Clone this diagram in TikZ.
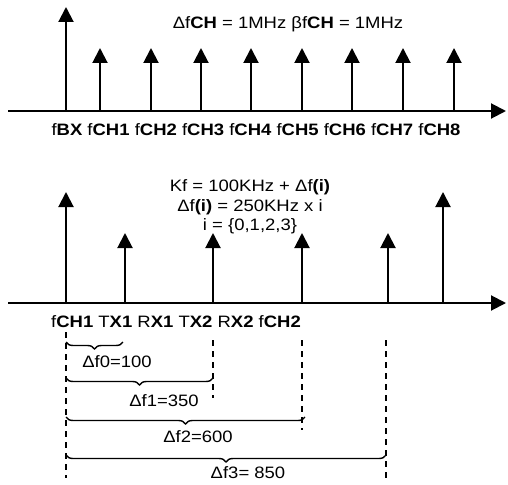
\documentclass[tikz,border=0pt]{standalone}
\usepackage{fontspec}
\setmainfont{Liberation Sans}[FakeStretch=1.12]
\usetikzlibrary{arrows.meta,decorations.pathreplacing}

\begin{document}
\begin{tikzpicture}[x=1pt,y=-1pt,>={Triangle[length=15pt,width=15pt]},
  every node/.style={font=\fontsize{16.5}{19.5}\selectfont,inner sep=0pt},
  axisline/.style={line width=2pt,->},
  stem/.style={line width=2pt,->},
  guide/.style={line width=1.4pt,dash pattern=on 6pt off 5pt},
  span/.style={line width=1.4pt,decorate,decoration={brace,mirror,amplitude=7pt}}]
\useasboundingbox (0,0) rectangle (508,484);
% upper spectrum
\coordinate (ua0) at (8,111);
\coordinate (ua1) at (506,111);
\draw[axisline] (ua0) -- (ua1);
\coordinate (bx0) at (66,111);
\coordinate (bx1) at (66,7);
\draw[stem] (bx0) -- (bx1);
\foreach \x [count=\i] in {100,151,201,251,302,352,403,454} {
  \coordinate (ch\i) at (\x,111);
  \coordinate (cht\i) at (\x,48);
  \draw[stem] (ch\i) -- (cht\i);
}
\node (spacing) at (288,24) {Δf\textbf{CH} = 1MHz βf\textbf{CH} = 1MHz};
\node (chlabels) at (256,130) {f\textbf{BX} f\textbf{CH1} f\textbf{CH2} f\textbf{CH3} f\textbf{CH4} f\textbf{CH5} f\textbf{CH6} f\textbf{CH7} f\textbf{CH8}};
% lower spectrum
\coordinate (la0) at (8,303);
\coordinate (la1) at (506,303);
\draw[axisline] (la0) -- (la1);
\foreach \x/\h [count=\i] in {66/192,125/233,213/233,302/233,388/233,443/192} {
  \coordinate (sb\i) at (\x,303);
  \coordinate (st\i) at (\x,\h);
  \draw[stem] (sb\i) -- (st\i);
}
\node[align=center] (kf) at (250,207) {Kf = 100KHz + Δf\textbf{(i)}\\Δf\textbf{(i)} = 250KHz x i\\i = \{0,1,2,3\}};
\node (txrx) at (176,322) {f\textbf{CH1} T\textbf{X1} R\textbf{X1} T\textbf{X2} R\textbf{X2} f\textbf{CH2}};
% offsets
\foreach \x/\a/\b [count=\i] in {66/332/478,213/340/398,302/340/430,386/340/478} {
  \coordinate (ga\i) at (\x,\a);
  \coordinate (gb\i) at (\x,\b);
  \draw[guide] (ga\i) -- (gb\i);
}
\foreach \x/\y [count=\i] in {123/342,213/378,305/417,386/455} {
  \coordinate (sl\i) at (66,\y);
  \coordinate (sr\i) at (\x,\y);
  \draw[span] (sl\i) -- (sr\i);
}
\node (df0) at (117,362) {Δf0=100};
\node (df1) at (164,401) {Δf1=350};
\node (df2) at (198,437) {Δf2=600};
\node (df3) at (248,473) {Δf3= 850};
\end{tikzpicture}
\end{document}
